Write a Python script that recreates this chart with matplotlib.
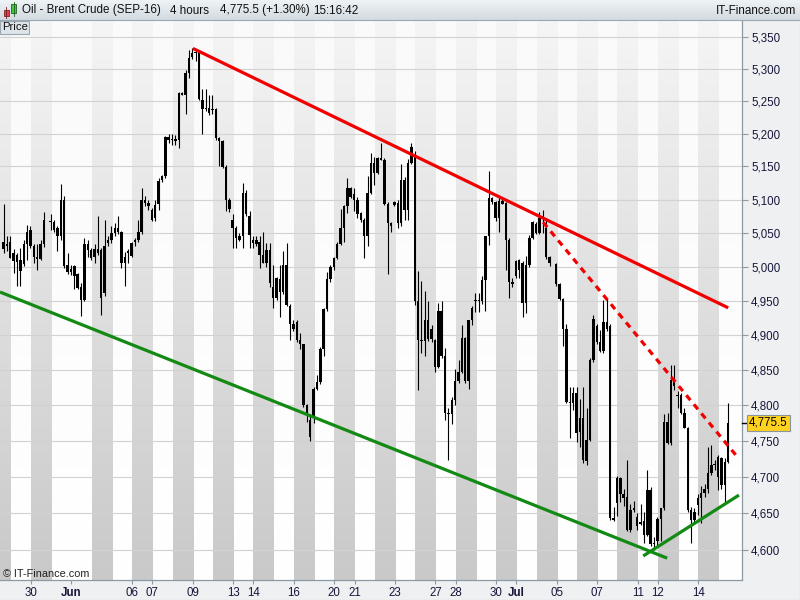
import numpy as np
import matplotlib
matplotlib.use("Agg")
import matplotlib.pyplot as plt
from matplotlib.colors import to_rgb
from matplotlib.transforms import blended_transform_factory
from matplotlib.patches import Rectangle
from matplotlib.ticker import NullLocator

nan = np.nan
plt.rcParams['font.family'] = ['Liberation Sans', 'DejaVu Sans']

# ---------------- data: 4-hour OHLC bars (slot index = position in list, nan = no bar)
opens = [
    5036, 5030, 5036, 5020, 5018, 5010, 5004, 5033, 5055, 5030,
    5015, 5012, 5034, nan, 5066, 5066, 5057, 5045, 5100, 5002,
    4993, 5001, 4989, 4971, 4952, 5033, 5025, 5015, 5026, 5025,
    4961, 5035, 5040, 5050, 5058, 5052, 5006, 5020, 5016, 5037,
    5040, 5052, 5100, 5095,
    5085, 5072, 5093, 5129, 5135, 5195, 5190, 5191, 5190, 5262,
    5260, 5294, 5318, 5325, 5328, 5252, 5240, 5240, 5236, 5238,
    5193, 5188, 5149, 5100, 5070, 5057, 5045, 5045, 5110, 5075,
    5040,
    5039, 5037, 5018, 5025, 5025, 4971, 4983, 4982, 4963, 5003,
    4942, 4917, 4920, 4893, 4887, 4800, 4780, 4784, 4824, 4833,
    4881, 4938, 4982, 4999, 5013, 5034, 5057, 5090, 5118, 5108,
    5099, 5080, 5070, 5045, 5110, 5155, 5140, 5163, 5160, 5094,
    5065, 5096,
    5095, 5065, 5130, 5084, 5155, 5168, 4950, 4894, 4892, 4922,
    4910, 4893, 4855, 4935, 4870, 4790, 4788, 4808, 4834, 4848,
    4896, 4834, 4922, 4950, 4950, 4950, 4981, 5046, 5102, 5096,
    5073, 5098, 5095, 5040, 4977, 4986, 4996, 5005, 4947, 5003,
    5043, 5063, 5050, 5073,
    5058, 5015, nan, 5004, 4975, 4953, 4910, 4805, 4803, 4817,
    4782, 4782, 4752, 4751, 4864, 4913, 4890, 4877, 4919, 4914,
    4643, 4664, 4698, 4677, 4672, 4627, 4655, 4645, 4636,
    4639, 4621, 4682, 4610, 4612, 4642, 4657, 4777, 4747, 4836,
    4815, 4815, 4790, 4768, 4655, 4641, 4662, 4671, 4678, 4683,
    4705, 4716, 4728, 4727, 4721, 4721,
]
highs = [
    5094, 5045, 5045, 5027, 5021, 5028, 5040, 5062, 5060, 5033,
    5033, 5039, 5082, nan, 5079, 5070, 5060, 5123, 5105, 5020,
    5002, 5003, 4991, 4976, 5043, 5040, 5028, 5033, 5075, 5028,
    5070, 5045, 5060, 5065, 5075, 5053, 5022, 5026, 5037, 5042,
    5070, 5118, 5105, 5100,
    5087, 5100, 5133, 5137, 5197, 5200, 5200, 5198, 5264, 5264,
    5299, 5330, 5333, 5330, 5330, 5268, 5268, 5260, 5260, 5240,
    5195, 5190, 5152, 5102, 5078, 5060, 5050, 5125, 5115, 5083,
    5045,
    5046, 5046, 5052, 5035, 5035, 5003, 4985, 5003, 5023, 5035,
    4945, 4922, 4922, 4903, 4888, 4802, 4788, 4826, 4843, 4883,
    4940, 4993, 5002, 5015, 5036, 5086, 5092, 5132, 5119, 5117,
    5104, 5081, 5072, 5135, 5170, 5165, 5165, 5185, 5162, 5097,
    5067, 5098,
    5100, 5153, 5134, 5161, 5186, 5174, 4994, 4979, 4964, 4950,
    4915, 4895, 4947, 4950, 4882, 4797, 4812, 4852, 4865, 4915,
    4898, 4922, 4942, 4962, 4962, 4986, 5046, 5143, 5104, 5098,
    5104, 5101, 5096, 5042, 4983, 5010, 5012, 5008, 5016, 5047,
    5068, 5066, 5082, 5085,
    5072, 5016, nan, 5006, 4976, 4955, 4917, 4826, 4826, 4826,
    4809, 4826, 4797, 4867, 4929, 4916, 4908, 4951, 4955, 4916,
    4659, 4702, 4700, 4684, 4724, 4663, 4667, 4650, 4663,
    4652, 4710, 4686, 4618, 4645, 4657, 4788, 4790, 4857, 4857,
    4820, 4818, 4797, 4770, 4659, 4657, 4676, 4687, 4690, 4742,
    4745, 4724, 4730, 4728, 4726, 4803,
]
lows = [
    5021, 5023, 5013, 4991, 4972, 4972, 5001, 5010, 5028, 5006,
    4995, 5010, 5029, nan, 5055, 5052, 5023, 5040, 4998, 4990,
    4988, 4967, 4967, 4928, 4950, 5015, 5010, 5005, 5018, 4930,
    4957, 5031, 5035, 5045, 5048, 4998, 4972, 5006, 5015, 5030,
    5037, 5048, 5090, 5085,
    5068, 5068, 5085, 5126, 5132, 5185, 5183, 5183, 5178, 5259,
    5230, 5286, 5315, 5312, 5252, 5200, 5234, 5228, 5230, 5190,
    5150, 5147, 5083, 5082, 5028, 5028, 5038, 5028, 5075, 5028,
    5028,
    5030, 4998, 5005, 5000, 4971, 4939, 4952, 4926, 4960, 4942,
    4894, 4907, 4891, 4880, 4798, 4777, 4750, 4775, 4822, 4831,
    4870, 4936, 4978, 4995, 5011, 5032, 5036, 5080, 5103, 5083,
    5072, 5066, 5013, 5030, 5108, 5122, 5138, 5160, 5092, 4990,
    5052, 5090,
    5058, 5060, 5070, 5070, 5153, 4944, 4822, 4875, 4870, 4892,
    4890, 4848, 4853, 4868, 4780, 4724, 4774, 4800, 4832, 4846,
    4832, 4824, 4915, 4934, 4934, 4946, 4936, 5032, 5094, 5068,
    5052, 5093, 4996, 4954, 4970, 4983, 4983, 4926, 4932, 5000,
    5041, 5048, 5049, 5050,
    5012, 5001, nan, 4972, 4951, 4885, 4803, 4754, 4794, 4749,
    4742, 4720, 4717, 4750, 4862, 4887, 4876, 4875, 4907, 4641,
    4640, 4647, 4665, 4660, 4626, 4624, 4652, 4627, 4634,
    4610, 4619, 4606, 4603, 4605, 4612, 4655, 4746, 4745, 4822,
    4797, 4788, 4768, 4652, 4610, 4635, 4648, 4637, 4673, 4678,
    4703, 4710, 4682, 4684, 4666, 4719,
]
closes = [
    5026, 5034, 5013, 5008, 5007, 4994, 5034, 5052, 5030, 5015,
    5012, 5034, 5069, nan, 5066, 5055, 5045, 5100, 5001, 4993,
    4997, 4987, 4969, 4952, 5033, 5025, 5013, 5027, 5020, 4955,
    5031, 5040, 5050, 5058, 5052, 5006, 5015, 5024, 5035, 5040,
    5052, 5100, 5095, 5090,
    5070, 5092, 5128, 5135, 5194, 5190, 5191, 5189, 5262, 5260,
    5294, 5317, 5325, 5327, 5253, 5237, 5238, 5231, 5238, 5193,
    5188, 5149, 5100, 5086, 5057, 5043, 5040, 5110, 5078, 5047,
    5035,
    5033, 5018, 5006, 5006, 4976, 4954, 4954, 4963, 5003, 4944,
    4917, 4910, 4893, 4887, 4800, 4788, 4756, 4824, 4833, 4881,
    4938, 4982, 4999, 5013, 5034, 5057, 5090, 5118, 5104, 5099,
    5078, 5070, 5045, 5110, 5155, 5140, 5163, 5160, 5094, 5065,
    5060, 5092,
    5065, 5130, 5084, 5155, 5180, 4950, 4894, 4892, 4922, 4895,
    4895, 4855, 4935, 4870, 4790, 4788, 4808, 4834, 4848, 4896,
    4834, 4922, 4940, 4950, 4952, 4981, 5046, 5102, 5096, 5073,
    5098, 5094, 5040, 4977, 4975, 5008, 5010, 4947, 5003, 5043,
    5066, 5050, 5073, 5074,
    5015, 5005, nan, 4975, 4953, 4910, 4805, 4803, 4817, 4761,
    4762, 4723, 4722, 4864, 4924, 4890, 4877, 4919, 4910, 4643,
    4641, 4698, 4677, 4671, 4627, 4655, 4655, 4632, 4638,
    4621, 4682, 4608, 4608, 4642, 4657, 4777, 4747, 4836, 4828,
    4813, 4790, 4768, 4655, 4641, 4652, 4671, 4678, 4683, 4705,
    4716, 4718, 4700, 4689, 4689, 4775.5,
]

# trading days shown (6 four-hour slots per day)
days = ["05-26", "05-27", "05-30", "05-31", "06-01", "06-02", "06-03",
        "06-06", "06-07", "06-08", "06-09", "06-10",
        "06-13", "06-14", "06-15", "06-16", "06-17",
        "06-20", "06-21", "06-22", "06-23", "06-24",
        "06-27", "06-28", "06-29", "06-30", "07-01",
        "07-04", "07-05", "07-06", "07-07", "07-08",
        "07-11", "07-12", "07-13", "07-14", "07-15"]
shaded_days = ["05-26", "05-30", "06-02", "06-06", "06-08", "06-10", "06-14",
               "06-16", "06-20", "06-22", "06-24", "06-28", "06-30", "07-04",
               "07-06", "07-08", "07-12", "07-14"]
tick_days = ["05-30", "06-01", "06-06", "06-07", "06-09", "06-13", "06-14",
             "06-16", "06-20", "06-21", "06-23", "06-27", "06-28", "06-30",
             "07-01", "07-05", "07-07", "07-11", "07-12", "07-14"]
tick_labels = ["30", "Jun", "06", "07", "09", "13", "14", "16", "20", "21",
               "23", "27", "28", "30", "Jul", "05", "07", "11", "12", "14"]
price_ticks = [4600, 4650, 4700, 4750, 4800, 4850, 4900, 4950, 5000,
               5050, 5100, 5150, 5200, 5250, 5300, 5350]

# trend lines (slot, price) anchors
red_slots, red_prices = [56.2, 215.0], [5332, 4940]
reddash_slots, reddash_prices = [160.1, 217.7], [5066, 4728]
green_slots, green_prices = [-1.04, 196.9], [4963, 4589]
green2_slots, green2_prices = [189.8, 218.2], [4592, 4675]

title_parts = ["Oil - Brent Crude (SEP-16)", "4 hours", "4,775.5 (+1.30%)", "15:16:42"]

# ---------------- layout
BARS_PER_DAY = 6
FIRST_DAY_SLOT = -3.84
XLIM = (-1.04, 219.1)
YLIM = (4559.6, 5376.8)
W, H = 800, 600
plot_rect = [0, 20 / H, 742 / W, 560 / H]

fig = plt.figure(figsize=(8, 6), dpi=100)
fig.patch.set_facecolor('#eef0f2')


def gradient(c_top, c_bot, n=256):
    a, b = np.array(to_rgb(c_top)), np.array(to_rgb(c_bot))
    t = np.linspace(0, 1, n)[:, None]
    return (a + (b - a) * t)[:, None, :]


# background axes with day bands
axb = fig.add_axes(plot_rect, zorder=0)
axb.set_xlim(*XLIM)
axb.set_ylim(0, 1)
axb.axis('off')
axb.imshow(gradient('#fafafa', '#ffffff'), extent=[XLIM[0], XLIM[1], 0, 1],
           aspect='auto', origin='upper', interpolation='bilinear')
for d in shaded_days:
    i = days.index(d)
    x0 = FIRST_DAY_SLOT + BARS_PER_DAY * i
    axb.imshow(gradient('#f5f5f5', '#c9c9c9'), extent=[x0, x0 + BARS_PER_DAY, 0, 1],
               aspect='auto', origin='upper', interpolation='bilinear')
axb.set_xlim(*XLIM)
axb.set_ylim(0, 1)

# main axes
ax = fig.add_axes(plot_rect, zorder=1)
ax.patch.set_visible(False)
ax.set_yscale('log')
ax.set_xlim(*XLIM)
ax.set_ylim(*YLIM)

o = np.array(opens, float); h = np.array(highs, float)
l = np.array(lows, float); c = np.array(closes, float)
x = np.arange(len(o))
ok = ~np.isnan(o)
ax.vlines(x[ok], l[ok], h[ok], color='black', lw=0.8, zorder=2)
bot = np.minimum(o, c)[ok]
top = np.maximum(o, c)[ok]
hgt = np.maximum(top - bot, 1.6)
ax.bar(x[ok], hgt, bottom=bot, width=0.72, color='black', lw=0, zorder=2)

ax.plot(red_slots, red_prices, color='#f20000', lw=2.3, zorder=3, solid_capstyle='butt')
ax.plot(reddash_slots, reddash_prices, color='#f20000', lw=2.3, zorder=3,
        linestyle=(0, (2.0, 1.7)), dash_capstyle='butt')
ax.plot(green_slots, green_prices, color='#138a13', lw=2.3, zorder=3, solid_capstyle='butt')
ax.plot(green2_slots, green2_prices, color='#138a13', lw=2.3, zorder=3, solid_capstyle='butt')

# y axis
ax.yaxis.tick_right()
ax.set_yticks(price_ticks)
ax.set_yticklabels([f"{p:,}" for p in price_ticks])
ax.yaxis.set_minor_locator(NullLocator())
ax.tick_params(axis='y', which='major', length=4.5, width=0.8, color='#8d9aa3',
               labelsize=8.3, labelcolor='#16163a', pad=2)
ax.grid(axis='y', color='#d2d2d2', lw=0.8)
ax.set_axisbelow(True)

# x axis
tpos = [FIRST_DAY_SLOT + BARS_PER_DAY * days.index(d) for d in tick_days]
ax.set_xticks(tpos)
ax.set_xticklabels(tick_labels)
for lab in ax.get_xticklabels():
    if lab.get_text() in ("Jun", "Jul"):
        lab.set_fontweight('bold')
ax.tick_params(axis='x', length=3, width=0.8, color='#8d9aa3', labelsize=8.3,
               labelcolor='#16163a', pad=2)

for s in ('left', 'top'):
    ax.spines[s].set_visible(False)
for s in ('right', 'bottom'):
    ax.spines[s].set_color('#8d9aa3')
    ax.spines[s].set_linewidth(0.9)

# current price label
last = closes[-1]
tr = blended_transform_factory(ax.transAxes, ax.transData)
ax.plot([1.0, 1.007], [last, last], color='black', lw=1, transform=tr, clip_on=False, zorder=4)
ax.text(1.0095, last, f"{last:,.1f}", transform=tr, va='center', ha='left', fontsize=8.3,
        color='black', zorder=5,
        bbox=dict(boxstyle='square,pad=0.18', fc='#ffd21f', ec='#8a949c', lw=0.8))

# overlay in pixel coordinates for chrome
ov = fig.add_axes([0, 0, 1, 1], zorder=5)
ov.patch.set_visible(False)
ov.imshow(gradient('#eef3f6', '#d3dbe1'), extent=[0, W, 20, 0], aspect='auto',
          origin='upper', interpolation='bilinear')
ov.set_xlim(0, W)
ov.set_ylim(H, 0)
ov.axis('off')
ov.plot([0, W], [20, 20], color='#9aa8b2', lw=0.8)
# icon
ov.add_patch(Rectangle((3.5, 10), 5, 6, fc='#e0404a', ec='#802020', lw=0.6))
ov.plot([6, 6], [7, 18], color='#802020', lw=0.6)
ov.add_patch(Rectangle((11, 4), 5, 9, fc='#40cc40', ec='#206020', lw=0.6))
ov.plot([13.5, 13.5], [2, 16], color='#206020', lw=0.6)
for txt, xp in zip(title_parts, [22.5, 170, 220.5, 313]):
    ov.text(xp, 10.5, txt, va='center', ha='left', fontsize=8.4, color='#111111')
ov.text(796, 10.5, "IT-Finance.com", va='center', ha='right', fontsize=8.4, color='#111111')
# "Price" tab
ov.add_patch(Rectangle((0, 20.5), 29, 13, fc='#dde5eb', ec='#9aa6b0', lw=0.8))
ov.text(2.5, 27.5, "Price", va='center', ha='left', fontsize=8.2, color='#111111')
# footer
ov.text(3, 574, "\u00a9 IT-Finance.com", va='center', ha='left', fontsize=7.8, color='#222222')
# outer border
ov.plot([799.5, 799.5], [20, 600], color='#a8b0b8', lw=0.8)
ov.plot([0, 800], [599.5, 599.5], color='#a8b0b8', lw=0.8)

fig.savefig("out.png", dpi=100, facecolor=fig.get_facecolor())
